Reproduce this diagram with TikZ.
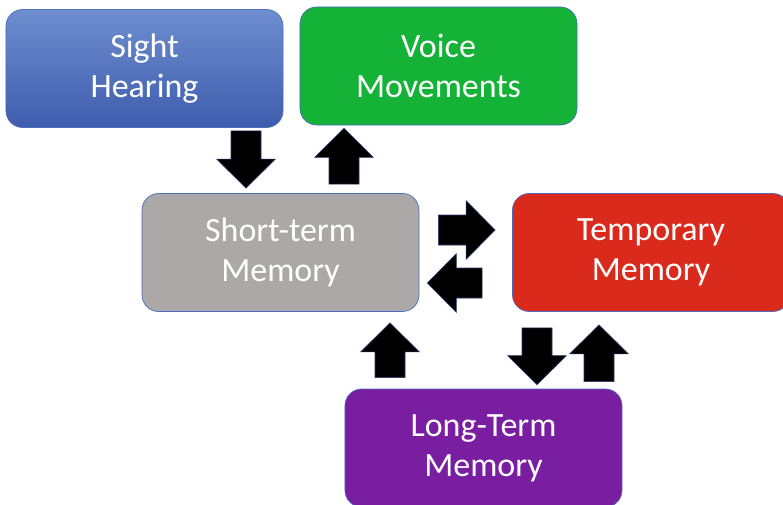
\documentclass[tikz,border=0pt]{standalone}
\usepackage{fontspec}
\setmainfont{Carlito}
\usetikzlibrary{calc}
\definecolor{azultopo}{HTML}{6E8ED0}
\definecolor{azulbase}{HTML}{3E5CAC}
\definecolor{verde}{HTML}{14B237}
\definecolor{cinza}{HTML}{ACA8A7}
\definecolor{vermelho}{HTML}{DA2A1C}
\definecolor{roxo}{HTML}{7A1EA1}
\definecolor{borda}{HTML}{4A6DBE}
\definecolor{bordaseta}{HTML}{2A3A70}
\begin{document}
\begin{tikzpicture}[x=0.03cm,y=-0.03cm,
  caixa/.style={draw=borda,line width=0.6pt,rounded corners=0.5cm,minimum width=8.31cm,
    minimum height=3.54cm,align=center,text=white,font=\fontsize{29pt}{34pt}\selectfont},
  seta/.style={draw=bordaseta,fill=black,line width=0.5pt,
    to path={let \p1=($(\tikztotarget)!0.87cm!(\tikztostart)$) in
      ($(\tikztostart)!0.45cm!-90:(\tikztotarget)$) --
      ($(\p1)!0.45cm!-90:(\tikztotarget)$) --
      ($(\p1)!0.88cm!-90:(\tikztotarget)$) --
      (\tikztotarget) --
      ($(\p1)!0.88cm!90:(\tikztotarget)$) --
      ($(\p1)!0.45cm!90:(\tikztotarget)$) --
      ($(\tikztostart)!0.45cm!90:(\tikztotarget)$) -- cycle}}]
  \clip (0,0) rectangle (783,505);
  %caixas
  \node[caixa,top color=azultopo,bottom color=azulbase] (sight) at (144.5,68.5) {Sight\\Hearing};
  \node[caixa,fill=verde] (voice) at (438.5,66) {Voice\\Movements};
  \node[caixa,fill=cinza] (stm) at (280.5,252.5) {Short-term\\Memory};
  \node[caixa,fill=vermelho] (temp) at (651,252.5) {Temporary\\Memory};
  \node[caixa,fill=roxo] (ltm) at (483.5,448) {Long-Term\\Memory};
  %setas
  \draw[seta] ([shift={(101.5,3)}]sight.south) to ([shift={(-34.5,-5)}]stm.north);
  \draw[seta] ([shift={(63.5,-9)}]stm.north) to ([shift={(-94.5,3)}]voice.south);
  \draw[seta] ([shift={(19,-22.5)}]stm.east) to ([shift={(-17,-22.5)}]temp.west);
  \draw[seta] ([shift={(-30,30.5)}]temp.west) to ([shift={(8,30.5)}]stm.east);
  \draw[seta] ([shift={(-93.5,-11)}]ltm.north) to ([shift={(109.5,11)}]stm.south);
  \draw[seta] ([shift={(-114,16)}]temp.south) to ([shift={(53.5,-4)}]ltm.north);
  \draw[seta] ([shift={(115.5,-7)}]ltm.north) to ([shift={(-52,13)}]temp.south);
\end{tikzpicture}
\end{document}
